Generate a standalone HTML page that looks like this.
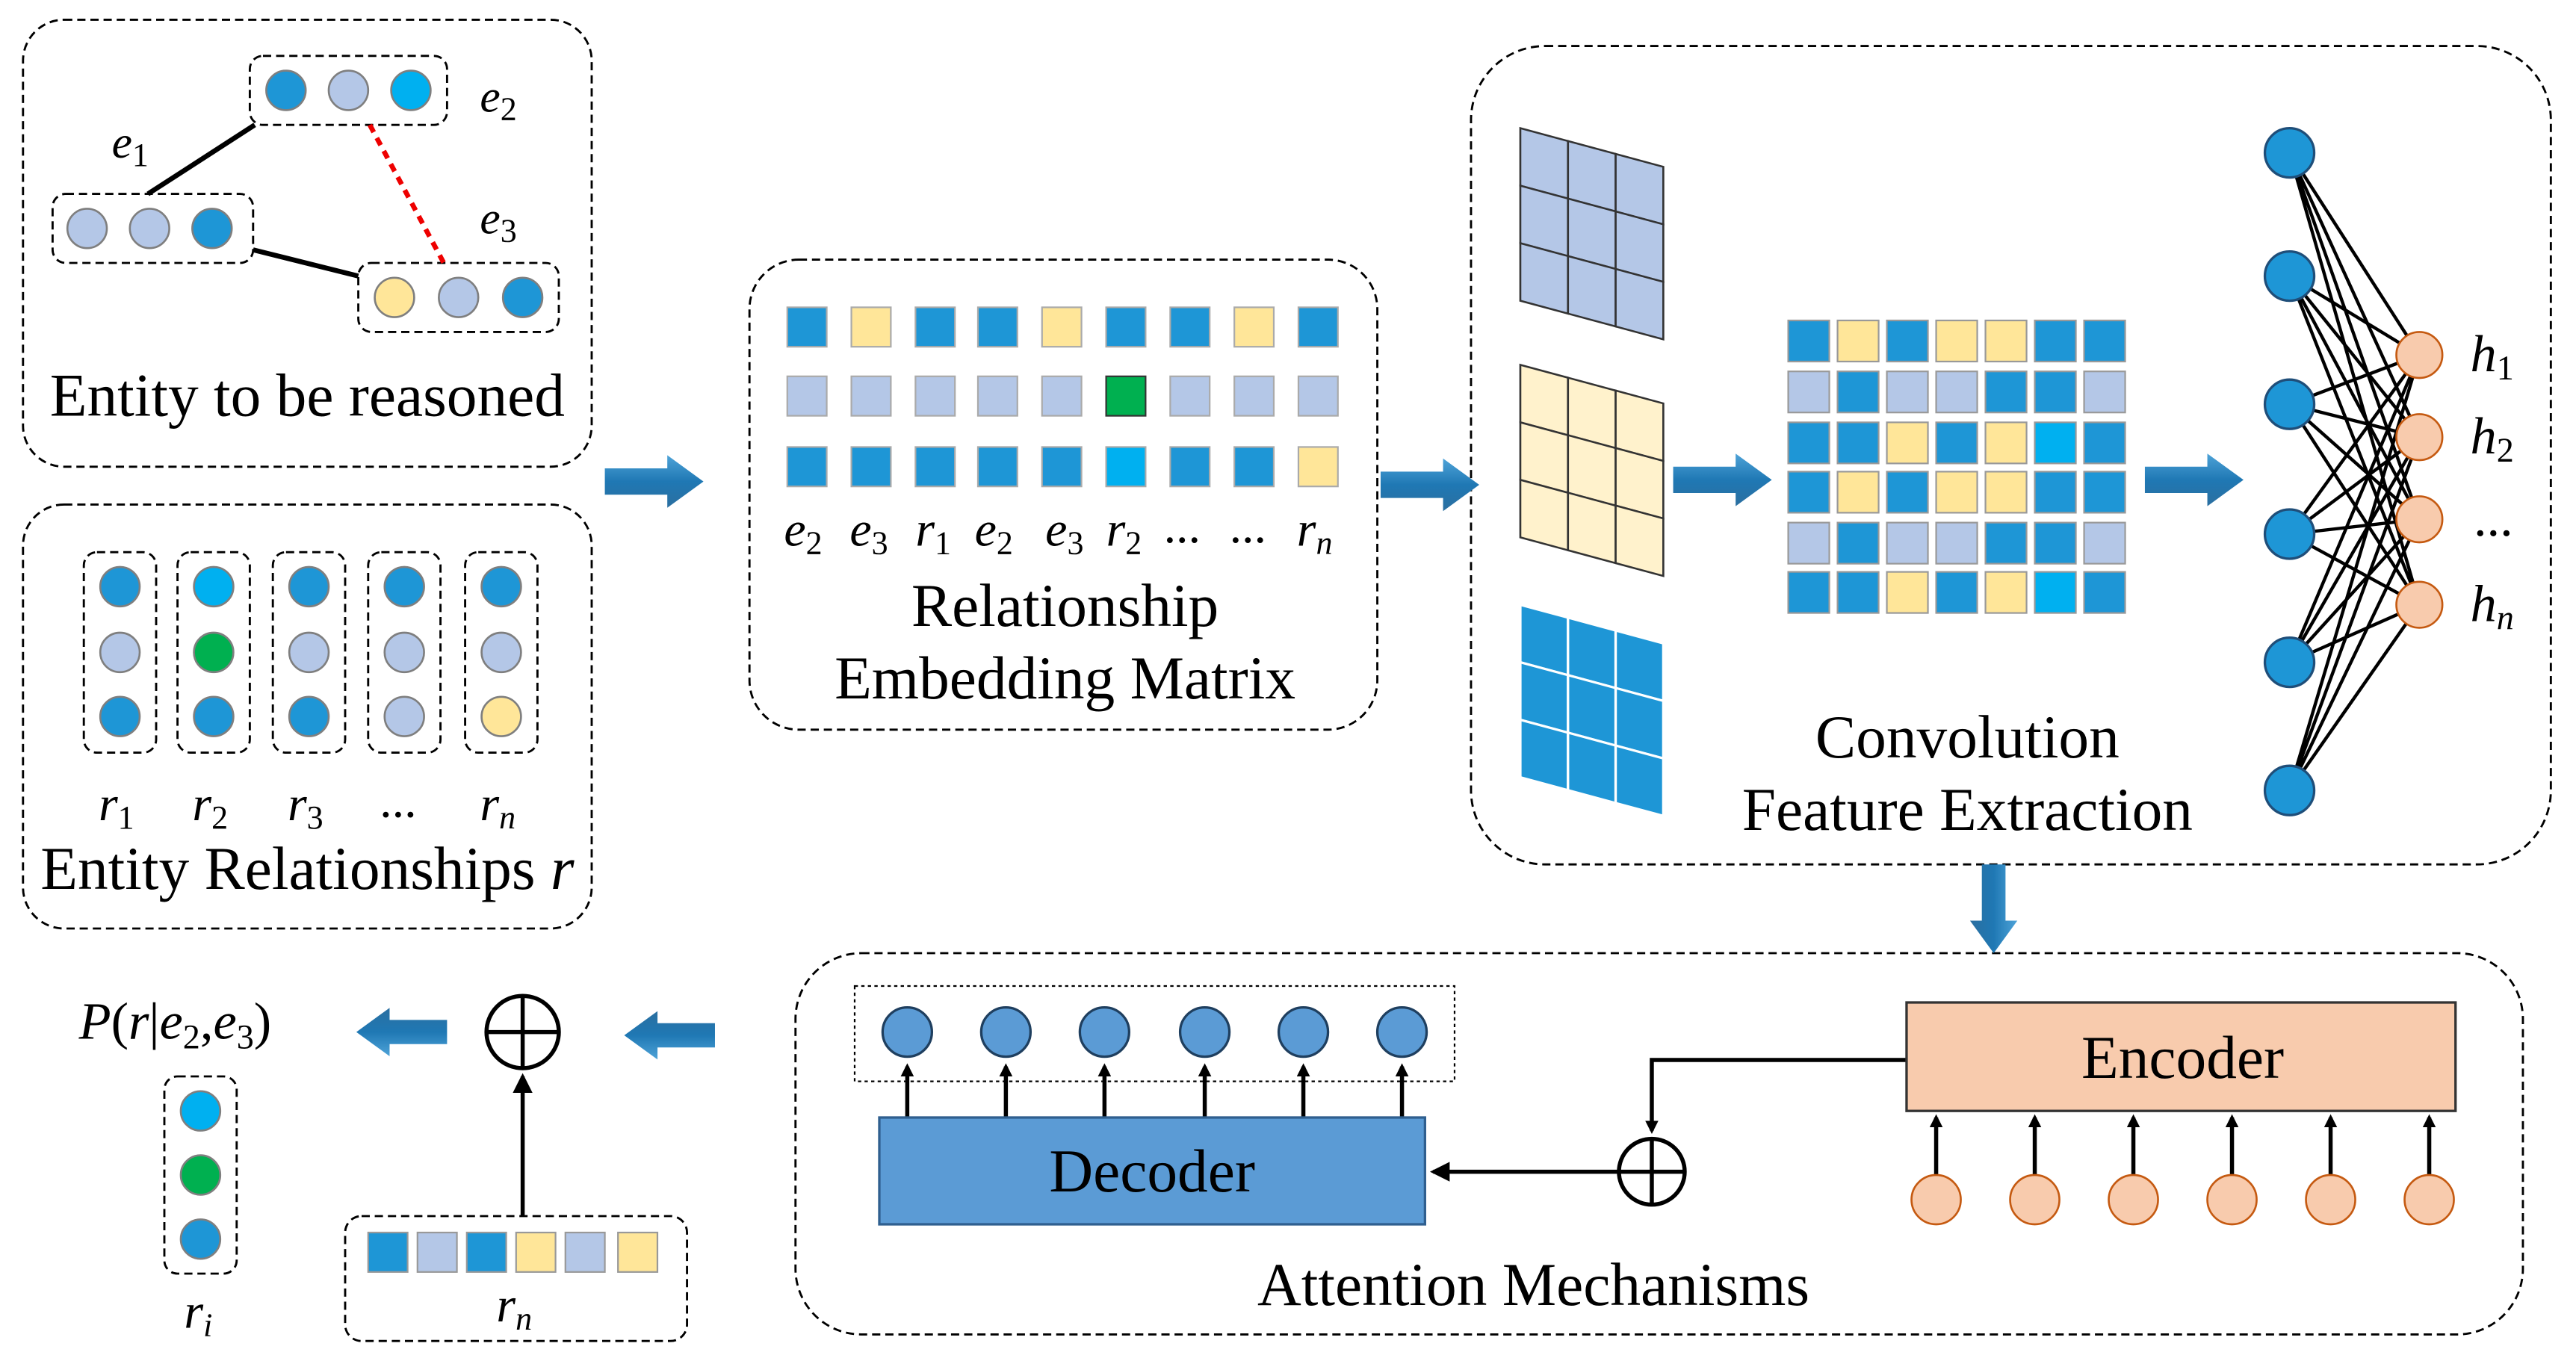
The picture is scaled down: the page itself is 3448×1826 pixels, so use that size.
<!DOCTYPE html>
<html><head><meta charset="utf-8"><style>
html,body{margin:0;padding:0;background:#fff}
svg{display:block}
text{font-family:"Liberation Serif",serif;fill:#000}
.it{font-style:italic}
.s{font-style:normal}
</style></head><body>
<svg width="3448" height="1826" viewBox="0 0 1567.3 830" preserveAspectRatio="none" xmlns="http://www.w3.org/2000/svg">
<defs>
<linearGradient id="ag" x1="0" y1="0" x2="0" y2="1"><stop offset="0" stop-color="#4ea3d8"/><stop offset="0.5" stop-color="#1f78b4"/><stop offset="1" stop-color="#2b6fa0"/></linearGradient>
<marker id="ah" markerWidth="8" markerHeight="8" refX="6" refY="4" orient="auto" markerUnits="userSpaceOnUse"><path d="M0,0 L8,4 L0,8 z" fill="#000"/></marker>
<marker id="ah2" markerWidth="12" markerHeight="12" refX="10" refY="6" orient="auto" markerUnits="userSpaceOnUse"><path d="M0,0 L12,6 L0,12 z" fill="#000"/></marker>
<g id="arR"><path d="M0,-8 L38,-8 L38,-16 L60,0 L38,16 L38,8 L0,8 z" fill="url(#ag)"/></g>
</defs>
<g fill="none" stroke="#000" stroke-width="1.3" stroke-dasharray="5,3">
<rect x="14" y="12" width="346" height="272" rx="25"/>
<rect x="14" y="307" width="346" height="258" rx="25"/>
<rect x="456" y="158" width="382" height="286" rx="30"/>
<rect x="895" y="28" width="657" height="498" rx="45"/>
<rect x="484" y="580" width="1051" height="232" rx="40"/>
<rect x="152" y="34" width="120" height="42" rx="8"/>
<rect x="32" y="118" width="122" height="42" rx="8"/>
<rect x="218" y="160" width="122" height="42" rx="8"/>
<rect x="51" y="336" width="44" height="122" rx="8"/>
<rect x="108" y="336" width="44" height="122" rx="8"/>
<rect x="166" y="336" width="44" height="122" rx="8"/>
<rect x="224" y="336" width="44" height="122" rx="8"/>
<rect x="283" y="336" width="44" height="122" rx="8"/>
<rect x="210" y="740" width="208" height="76" rx="10"/>
<rect x="100" y="655" width="44" height="120" rx="8"/>
</g>
<rect x="520" y="600" width="365" height="58" fill="none" stroke="#000" stroke-width="1" stroke-dasharray="2,2"/>
<line x1="90" y1="118" x2="155" y2="76" stroke="#000" stroke-width="3"/>
<line x1="154" y1="152" x2="218" y2="168" stroke="#000" stroke-width="3"/>
<line x1="225" y1="76" x2="270" y2="160" stroke="#e00" stroke-width="3" stroke-dasharray="5,4"/>
<g stroke="#7f7f7f" stroke-width="1.2">
<circle cx="174" cy="55" r="12" fill="#1e96d6"/><circle cx="212" cy="55" r="12" fill="#b4c7e7"/><circle cx="250" cy="55" r="12" fill="#00b0f0"/>
<circle cx="53" cy="139" r="12" fill="#b4c7e7"/><circle cx="91" cy="139" r="12" fill="#b4c7e7"/><circle cx="129" cy="139" r="12" fill="#1e96d6"/>
<circle cx="240" cy="181" r="12" fill="#ffe699"/><circle cx="279" cy="181" r="12" fill="#b4c7e7"/><circle cx="318" cy="181" r="12" fill="#1e96d6"/>
<circle cx="73" cy="357" r="12" fill="#1e96d6"/><circle cx="73" cy="397" r="12" fill="#b4c7e7"/><circle cx="73" cy="436" r="12" fill="#1e96d6"/>
<circle cx="130" cy="357" r="12" fill="#00b0f0"/><circle cx="130" cy="397" r="12" fill="#00b050"/><circle cx="130" cy="436" r="12" fill="#1e96d6"/>
<circle cx="188" cy="357" r="12" fill="#1e96d6"/><circle cx="188" cy="397" r="12" fill="#b4c7e7"/><circle cx="188" cy="436" r="12" fill="#1e96d6"/>
<circle cx="246" cy="357" r="12" fill="#1e96d6"/><circle cx="246" cy="397" r="12" fill="#b4c7e7"/><circle cx="246" cy="436" r="12" fill="#b4c7e7"/>
<circle cx="305" cy="357" r="12" fill="#1e96d6"/><circle cx="305" cy="397" r="12" fill="#b4c7e7"/><circle cx="305" cy="436" r="12" fill="#ffe699"/>
<circle cx="122" cy="676" r="12" fill="#00b0f0"/><circle cx="122" cy="715" r="12" fill="#00b050"/><circle cx="122" cy="754" r="12" fill="#1e96d6"/>
</g>
<text x="292" y="68" font-size="28" class="it">e<tspan class="s" font-size="20" dy="5">2</tspan></text>
<text x="68" y="96" font-size="28" class="it">e<tspan class="s" font-size="20" dy="5">1</tspan></text>
<text x="292" y="142" font-size="28" class="it">e<tspan class="s" font-size="20" dy="5">3</tspan></text>
<text x="187" y="253" font-size="37" text-anchor="middle">Entity to be reasoned</text>
<g font-size="30" class="it">
<text x="60" y="499">r<tspan class="s" font-size="20" dy="5">1</tspan></text>
<text x="117" y="499">r<tspan class="s" font-size="20" dy="5">2</tspan></text>
<text x="175" y="499">r<tspan class="s" font-size="20" dy="5">3</tspan></text>
<text x="231" y="497" class="s">...</text>
<text x="292" y="499">r<tspan font-size="20" dy="5">n</tspan></text>
</g>
<text x="187" y="541" font-size="37" text-anchor="middle">Entity Relationships <tspan class="it">r</tspan></text>
<g stroke="#aaa" stroke-width="1">
<rect x="479" y="187" width="24" height="24" fill="#1e96d6"/><rect x="518" y="187" width="24" height="24" fill="#ffe699"/><rect x="557" y="187" width="24" height="24" fill="#1e96d6"/><rect x="595" y="187" width="24" height="24" fill="#1e96d6"/><rect x="634" y="187" width="24" height="24" fill="#ffe699"/><rect x="673" y="187" width="24" height="24" fill="#1e96d6"/><rect x="712" y="187" width="24" height="24" fill="#1e96d6"/><rect x="751" y="187" width="24" height="24" fill="#ffe699"/><rect x="790" y="187" width="24" height="24" fill="#1e96d6"/>
<rect x="479" y="229" width="24" height="24" fill="#b4c7e7"/><rect x="518" y="229" width="24" height="24" fill="#b4c7e7"/><rect x="557" y="229" width="24" height="24" fill="#b4c7e7"/><rect x="595" y="229" width="24" height="24" fill="#b4c7e7"/><rect x="634" y="229" width="24" height="24" fill="#b4c7e7"/><rect x="673" y="229" width="24" height="24" fill="#00b050" stroke="#333"/><rect x="712" y="229" width="24" height="24" fill="#b4c7e7"/><rect x="751" y="229" width="24" height="24" fill="#b4c7e7"/><rect x="790" y="229" width="24" height="24" fill="#b4c7e7"/>
<rect x="479" y="272" width="24" height="24" fill="#1e96d6"/><rect x="518" y="272" width="24" height="24" fill="#1e96d6"/><rect x="557" y="272" width="24" height="24" fill="#1e96d6"/><rect x="595" y="272" width="24" height="24" fill="#1e96d6"/><rect x="634" y="272" width="24" height="24" fill="#1e96d6"/><rect x="673" y="272" width="24" height="24" fill="#00b0f0"/><rect x="712" y="272" width="24" height="24" fill="#1e96d6"/><rect x="751" y="272" width="24" height="24" fill="#1e96d6"/><rect x="790" y="272" width="24" height="24" fill="#ffe699"/>
</g>
<g font-size="30" class="it">
<text x="477" y="332">e<tspan class="s" font-size="20" dy="5">2</tspan></text>
<text x="517" y="332">e<tspan class="s" font-size="20" dy="5">3</tspan></text>
<text x="557" y="332">r<tspan class="s" font-size="20" dy="5">1</tspan></text>
<text x="593" y="332">e<tspan class="s" font-size="20" dy="5">2</tspan></text>
<text x="636" y="332">e<tspan class="s" font-size="20" dy="5">3</tspan></text>
<text x="673" y="332">r<tspan class="s" font-size="20" dy="5">2</tspan></text>
<text x="708" y="330" class="s">...</text>
<text x="748" y="330" class="s">...</text>
<text x="789" y="332">r<tspan font-size="20" dy="5">n</tspan></text>
</g>
<text x="648" y="381" font-size="37" text-anchor="middle">Relationship</text>
<text x="648" y="425" font-size="37" text-anchor="middle">Embedding Matrix</text>
<g stroke="#333" stroke-width="1.2">
<g transform="matrix(1,0.27,0,1,925,78)"><g fill="#b4c7e7"><rect x="0" y="0" width="29" height="35"/><rect x="29" y="0" width="29" height="35"/><rect x="58" y="0" width="29" height="35"/><rect x="0" y="35" width="29" height="35"/><rect x="29" y="35" width="29" height="35"/><rect x="58" y="35" width="29" height="35"/><rect x="0" y="70" width="29" height="35"/><rect x="29" y="70" width="29" height="35"/><rect x="58" y="70" width="29" height="35"/></g></g>
<g transform="matrix(1,0.27,0,1,925,222)"><g fill="#fff2cc"><rect x="0" y="0" width="29" height="35"/><rect x="29" y="0" width="29" height="35"/><rect x="58" y="0" width="29" height="35"/><rect x="0" y="35" width="29" height="35"/><rect x="29" y="35" width="29" height="35"/><rect x="58" y="35" width="29" height="35"/><rect x="0" y="70" width="29" height="35"/><rect x="29" y="70" width="29" height="35"/><rect x="58" y="70" width="29" height="35"/></g></g>
</g>
<g transform="matrix(1,0.27,0,1,925,368)" stroke="#fff" stroke-width="1.5" fill="#1e96d6"><rect x="0" y="0" width="29" height="35"/><rect x="29" y="0" width="29" height="35"/><rect x="58" y="0" width="29" height="35"/><rect x="0" y="35" width="29" height="35"/><rect x="29" y="35" width="29" height="35"/><rect x="58" y="35" width="29" height="35"/><rect x="0" y="70" width="29" height="35"/><rect x="29" y="70" width="29" height="35"/><rect x="58" y="70" width="29" height="35"/></g>
<g stroke="#999" stroke-width="1">
<rect x="1088" y="195" width="25" height="25" fill="#1e96d6"/><rect x="1118" y="195" width="25" height="25" fill="#ffe699"/><rect x="1148" y="195" width="25" height="25" fill="#1e96d6"/><rect x="1178" y="195" width="25" height="25" fill="#ffe699"/><rect x="1208" y="195" width="25" height="25" fill="#ffe699"/><rect x="1238" y="195" width="25" height="25" fill="#1e96d6"/><rect x="1268" y="195" width="25" height="25" fill="#1e96d6"/>
<rect x="1088" y="226" width="25" height="25" fill="#b4c7e7"/><rect x="1118" y="226" width="25" height="25" fill="#1e96d6"/><rect x="1148" y="226" width="25" height="25" fill="#b4c7e7"/><rect x="1178" y="226" width="25" height="25" fill="#b4c7e7"/><rect x="1208" y="226" width="25" height="25" fill="#1e96d6"/><rect x="1238" y="226" width="25" height="25" fill="#1e96d6"/><rect x="1268" y="226" width="25" height="25" fill="#b4c7e7"/>
<rect x="1088" y="257" width="25" height="25" fill="#1e96d6"/><rect x="1118" y="257" width="25" height="25" fill="#1e96d6"/><rect x="1148" y="257" width="25" height="25" fill="#ffe699"/><rect x="1178" y="257" width="25" height="25" fill="#1e96d6"/><rect x="1208" y="257" width="25" height="25" fill="#ffe699"/><rect x="1238" y="257" width="25" height="25" fill="#00b0f0"/><rect x="1268" y="257" width="25" height="25" fill="#1e96d6"/>
<rect x="1088" y="287" width="25" height="25" fill="#1e96d6"/><rect x="1118" y="287" width="25" height="25" fill="#ffe699"/><rect x="1148" y="287" width="25" height="25" fill="#1e96d6"/><rect x="1178" y="287" width="25" height="25" fill="#ffe699"/><rect x="1208" y="287" width="25" height="25" fill="#ffe699"/><rect x="1238" y="287" width="25" height="25" fill="#1e96d6"/><rect x="1268" y="287" width="25" height="25" fill="#1e96d6"/>
<rect x="1088" y="318" width="25" height="25" fill="#b4c7e7"/><rect x="1118" y="318" width="25" height="25" fill="#1e96d6"/><rect x="1148" y="318" width="25" height="25" fill="#b4c7e7"/><rect x="1178" y="318" width="25" height="25" fill="#b4c7e7"/><rect x="1208" y="318" width="25" height="25" fill="#1e96d6"/><rect x="1238" y="318" width="25" height="25" fill="#1e96d6"/><rect x="1268" y="318" width="25" height="25" fill="#b4c7e7"/>
<rect x="1088" y="348" width="25" height="25" fill="#1e96d6"/><rect x="1118" y="348" width="25" height="25" fill="#1e96d6"/><rect x="1148" y="348" width="25" height="25" fill="#ffe699"/><rect x="1178" y="348" width="25" height="25" fill="#1e96d6"/><rect x="1208" y="348" width="25" height="25" fill="#ffe699"/><rect x="1238" y="348" width="25" height="25" fill="#00b0f0"/><rect x="1268" y="348" width="25" height="25" fill="#1e96d6"/>
</g>
<text x="1197" y="461" font-size="37" text-anchor="middle">Convolution</text>
<text x="1197" y="505" font-size="37" text-anchor="middle">Feature Extraction</text>
<g stroke="#000" stroke-width="2">
<path d="M1393,93L1472,216M1393,93L1472,266M1393,93L1472,316M1393,93L1472,368
M1393,168L1472,216M1393,168L1472,266M1393,168L1472,316M1393,168L1472,368
M1393,246L1472,216M1393,246L1472,266M1393,246L1472,316M1393,246L1472,368
M1393,325L1472,216M1393,325L1472,266M1393,325L1472,316M1393,325L1472,368
M1393,403L1472,216M1393,403L1472,266M1393,403L1472,316M1393,403L1472,368
M1393,481L1472,216M1393,481L1472,266M1393,481L1472,316M1393,481L1472,368"/>
</g>
<g stroke="#1f4e79" stroke-width="1.5" fill="#1e96d6">
<circle cx="1393" cy="93" r="15"/><circle cx="1393" cy="168" r="15"/><circle cx="1393" cy="246" r="15"/><circle cx="1393" cy="325" r="15"/><circle cx="1393" cy="403" r="15"/><circle cx="1393" cy="481" r="15"/>
</g>
<g stroke="#c55a11" stroke-width="1.2" fill="#f8cbad">
<circle cx="1472" cy="216" r="14"/><circle cx="1472" cy="266" r="14"/><circle cx="1472" cy="316" r="14"/><circle cx="1472" cy="368" r="14"/>
</g>
<g font-size="32" class="it">
<text x="1503" y="226">h<tspan class="s" font-size="21" dy="5">1</tspan></text>
<text x="1503" y="276">h<tspan class="s" font-size="21" dy="5">2</tspan></text>
<text x="1505" y="326" class="s">...</text>
<text x="1503" y="378">h<tspan font-size="21" dy="5">n</tspan></text>
</g>
<use href="#arR" transform="translate(368,293)"/>
<use href="#arR" transform="translate(840,295)"/>
<use href="#arR" transform="translate(1018,292)"/>
<use href="#arR" transform="translate(1305,292)"/>
<use href="#arR" transform="translate(1213,526) rotate(90) scale(0.9)"/>
<use href="#arR" transform="translate(435,630) rotate(180) scale(0.92)"/>
<use href="#arR" transform="translate(272,628) rotate(180) scale(0.92)"/>
<g stroke="#000" stroke-width="2.5">
<line x1="552" y1="680" x2="552" y2="649" marker-end="url(#ah)"/><line x1="612" y1="680" x2="612" y2="649" marker-end="url(#ah)"/><line x1="672" y1="680" x2="672" y2="649" marker-end="url(#ah)"/><line x1="733" y1="680" x2="733" y2="649" marker-end="url(#ah)"/><line x1="793" y1="680" x2="793" y2="649" marker-end="url(#ah)"/><line x1="853" y1="680" x2="853" y2="649" marker-end="url(#ah)"/>
<line x1="1178" y1="715" x2="1178" y2="680" marker-end="url(#ah)"/><line x1="1238" y1="715" x2="1238" y2="680" marker-end="url(#ah)"/><line x1="1298" y1="715" x2="1298" y2="680" marker-end="url(#ah)"/><line x1="1358" y1="715" x2="1358" y2="680" marker-end="url(#ah)"/><line x1="1418" y1="715" x2="1418" y2="680" marker-end="url(#ah)"/><line x1="1478" y1="715" x2="1478" y2="680" marker-end="url(#ah)"/>
<polyline points="1160,645 1005,645 1005,688" fill="none" marker-end="url(#ah)"/>
<line x1="985" y1="713" x2="872" y2="713" marker-end="url(#ah2)"/>
<line x1="318" y1="740" x2="318" y2="655" marker-end="url(#ah2)"/>
</g>
<g stroke="#1f3f5f" stroke-width="1.5" fill="#5b9bd5">
<circle cx="552" cy="628" r="15"/><circle cx="612" cy="628" r="15"/><circle cx="672" cy="628" r="15"/><circle cx="733" cy="628" r="15"/><circle cx="793" cy="628" r="15"/><circle cx="853" cy="628" r="15"/>
</g>
<rect x="535" y="680" width="332" height="65" fill="#5b9bd5" stroke="#2f5f8f" stroke-width="1.5"/>
<text x="701" y="725" font-size="37" text-anchor="middle">Decoder</text>
<rect x="1160" y="610" width="334" height="66" fill="#f8cbad" stroke="#333" stroke-width="1.5"/>
<text x="1328" y="656" font-size="37" text-anchor="middle">Encoder</text>
<g stroke="#c55a11" stroke-width="1.2" fill="#f8cbad">
<circle cx="1178" cy="730" r="15"/><circle cx="1238" cy="730" r="15"/><circle cx="1298" cy="730" r="15"/><circle cx="1358" cy="730" r="15"/><circle cx="1418" cy="730" r="15"/><circle cx="1478" cy="730" r="15"/>
</g>
<g fill="#fff" stroke="#000" stroke-width="2.5">
<circle cx="1005" cy="713" r="20"/><line x1="985" y1="713" x2="1025" y2="713"/><line x1="1005" y1="693" x2="1005" y2="733"/>
<circle cx="318" cy="628" r="22"/><line x1="296" y1="628" x2="340" y2="628"/><line x1="318" y1="606" x2="318" y2="650"/>
</g>
<text x="933" y="794" font-size="37" text-anchor="middle">Attention Mechanisms</text>
<g stroke="#999" stroke-width="1">
<rect x="224" y="750" width="24" height="24" fill="#1e96d6"/><rect x="254" y="750" width="24" height="24" fill="#b4c7e7"/><rect x="284" y="750" width="24" height="24" fill="#1e96d6"/><rect x="314" y="750" width="24" height="24" fill="#ffe699"/><rect x="344" y="750" width="24" height="24" fill="#b4c7e7"/><rect x="376" y="750" width="24" height="24" fill="#ffe699"/>
</g>
<text x="302" y="804" font-size="30" class="it">r<tspan font-size="20" dy="5">n</tspan></text>
<text x="112" y="808" font-size="30" class="it">r<tspan font-size="20" dy="5">i</tspan></text>
<text x="48" y="632" font-size="32" class="it">P<tspan class="s">(</tspan>r<tspan class="s">|</tspan>e<tspan class="s" font-size="21" dy="6">2</tspan><tspan dy="-6" class="s">,</tspan>e<tspan class="s" font-size="21" dy="6">3</tspan><tspan dy="-6" class="s">)</tspan></text>
</svg>
</body></html>
